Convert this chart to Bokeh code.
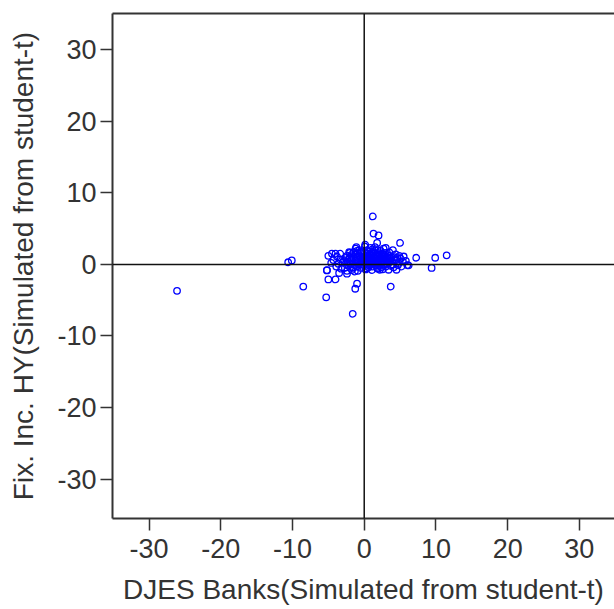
from bokeh.plotting import figure
from bokeh.models import Range1d, Span, LinearAxis, FixedTicker, ColumnDataSource
from bokeh.embed import file_html
from bokeh.resources import INLINE

# DJES Banks (x) and Fix. Inc. HY (y), simulated from student-t
djes_core = [0.2, 0.5, 0.8, 1.1, 1.4, 1.7, 2.0, 2.3, 2.6, 2.9,
             -0.2, -0.5, -0.8, -1.1, -1.4, -1.7, -2.0, -2.3, 0.1, 0.4,
             0.7, 1.0, 1.3, 1.6, 1.9, 2.2, 2.5, 2.8, 3.1, 3.4,
             0.3, 0.6, 0.9, 1.2, 1.5, 1.8, 2.1, 2.4, 2.7, 3.0,
             -0.1, -0.4, -0.7, -1.0, -1.3, -1.6, -1.9, -2.2, -2.5, -2.8,
             3.3, 3.6, 3.9, 4.2, 4.5, 4.8, 5.1, 5.4, 3.7, 4.1,
             0.0, 0.35, 0.65, 0.95, 1.25, 1.55, 1.85, 2.15, 2.45, 0.15,
             -0.35, -0.65, -0.95, -1.25, -1.55, -1.85, -2.6, -3.0, -3.3, -3.6,
             0.45, 0.85, 1.15, 1.5, 1.9, 2.3, 2.7, -0.3, -0.7, 0.1,
             0.55, 1.05, 1.35, 1.75, 2.05, 0.75, 1.2, 0.25, 1.6, 0.9,
             -0.1, 0.6, 1.0, 1.45, 2.5, 3.2, 2.9, 3.5, 4.4, 4.7,
             5.5, 5.8, 6.0, 4.0, -3.9, -3.2, -2.7, -4.3, -3.8, -4.6,
             0.05, 0.4, 0.75, 1.1, 1.45, 1.8, 2.15, 2.5, 2.85, 3.2,
             -0.25, -0.6, -0.9, -1.2, -1.5, -1.8, -2.1, -2.4, 3.55, 3.9,
             0.3, 0.7, 1.1, 1.5, 1.9, 2.3, 2.7, 3.1, 3.5, 4.3,
             -0.5, -1.0, -1.5, -2.0, 0.0, 0.5, 1.0, 1.7, 2.4, 4.6]
hy_core = [0.5, 0.8, 0.3, 0.9, 0.4, 1.1, 0.6, 0.2, 0.9, 0.5,
           0.3, 0.9, 0.4, 0.7, 0.2, 0.6, 1.0, 0.4, 1.2, 1.5,
           1.8, 1.4, 1.7, 1.3, 1.6, 1.2, 1.5, 1.1, 0.8, 0.3,
           -0.2, -0.4, 0.0, -0.3, -0.1, -0.5, -0.2, -0.4, 0.0, -0.3,
           -0.1, -0.5, 0.0, -0.3, -0.1, -0.4, 0.1, -0.2, 0.2, 0.6,
           1.3, 0.9, 0.5, 1.0, 0.6, 0.2, 0.8, 0.4, -0.2, -0.4,
           0.7, 0.15, 1.1, 0.65, 0.15, 0.75, 0.35, 0.95, 0.55, 0.95,
           0.6, 1.3, 1.05, 1.4, 1.0, 1.3, 0.9, 0.3, 0.7, 0.1,
           2.0, 2.3, 2.1, 2.4, 2.0, 1.9, 2.2, 1.8, 2.0, 2.5,
           0.45, 0.25, 1.0, 0.55, 1.35, 0.6, 0.6, 0.7, 0.2, 1.2,
           0.4, 0.05, 0.85, 0.5, 0.3, 0.1, 1.6, 1.7, 1.4, -0.1,
           1.1, 0.5, -0.1, 2.0, -0.3, -0.6, -0.5, 0.6, 1.1, 0.2,
           1.0, 0.6, 1.35, 0.45, 0.9, 0.25, 0.75, 1.25, 0.35, 1.05,
           1.05, 0.15, 1.6, 0.45, 1.7, 0.05, 0.75, 1.2, 0.6, 0.0,
           -0.55, -0.15, 0.35, 1.95, -0.6, 0.05, 1.35, 0.4, 1.2, 0.7,
           1.6, 1.9, -0.5, 1.6, 1.75, 1.05, 0.15, 0.8, 0.75, 0.9]
djes_outer = [-5.0, -4.0, -2.1, -1.2, 3.0, 3.8, 5.2, 4.9, -2.4, -1.7,
              0.2, 1.1, 2.6, 3.4, 2.2, 4.5, -0.9, -5.2, -3.5, -2.4,
              -1.3, 5.0, 1.8, -1.1, 0.14, 6.2, 7.25, 9.9, 9.4, 11.5,
              1.2, 1.3, 2.0, -10.6, -10.1, -8.5, -5.3, -1.6, -1.25, -1.0,
              3.7, -5.0, -4.0, -5.2, -4.5, -3.35, -26.1]
hy_outer = [1.2, 1.5, 1.7, 2.2, 2.3, 1.0, -0.3, 1.2, -0.9, -0.8,
            -0.7, -0.8, -0.7, -0.75, -0.75, -0.75, -0.9, -0.8, -1.2, -1.3,
            -1.0, 3.0, 3.0, 2.4, 2.75, -0.14, 0.93, 0.93, -0.5, 1.26,
            6.7, 4.3, 4.05, 0.3, 0.56, -3.1, -4.6, -6.9, -3.4, -2.7,
            -3.1, -2.1, -2.1, -0.84, 1.5, 1.5, -3.7]

x_ticks = [-30, -20, -10, 0, 10, 20, 30]
y_ticks = [-30, -20, -10, 0, 10, 20, 30]
x_title = "DJES Banks(Simulated from student-t)"
y_title = "Fix. Inc. HY(Simulated from student-t)"

src = ColumnDataSource(dict(x=djes_core + djes_outer, y=hy_core + hy_outer))

p = figure(width=614, height=609, output_backend="svg", toolbar_location=None,
           x_range=Range1d(-35.1, 34.9), y_range=Range1d(-35.5, 35.05),
           min_border_left=112, min_border_right=0, min_border_top=13, min_border_bottom=91,
           x_axis_label=x_title, y_axis_label=y_title)
p.outline_line_color = None
p.xgrid.visible = False
p.ygrid.visible = False
p.background_fill_color = "white"
p.border_fill_color = "white"

p.scatter("x", "y", source=src, marker="circle", size=6.5, fill_color=None,
          line_color="#0000ff", line_width=1.3)

p.add_layout(Span(location=0, dimension="height", line_color="#111111", line_width=1.5))
p.add_layout(Span(location=0, dimension="width", line_color="#111111", line_width=1.5))

for ax, ticks in ((p.xaxis[0], x_ticks), (p.yaxis[0], y_ticks)):
    ax.ticker = FixedTicker(ticks=ticks)
    ax.major_label_overrides = {t: str(t) for t in ticks}
    ax.major_tick_out = 12
    ax.major_tick_in = 0
    ax.minor_tick_out = 0
    ax.minor_tick_in = 0
    ax.axis_line_color = "#333333"
    ax.axis_line_width = 2
    ax.major_tick_line_color = "#333333"
    ax.major_tick_line_width = 1.5
    ax.major_label_text_font = "Liberation Sans"
    ax.major_label_text_font_size = "27px"
    ax.major_label_text_color = "#333333"
    ax.axis_label_text_font = "Liberation Sans"
    ax.axis_label_text_font_size = "28px"
    ax.axis_label_text_font_style = "normal"
    ax.axis_label_text_color = "#333333"
    ax.axis_label_text_line_height = 0.9
p.xaxis[0].major_label_standoff = 8
p.xaxis[0].axis_label_standoff = 13
p.yaxis[0].major_label_standoff = 4
p.yaxis[0].axis_label_standoff = 15

top = LinearAxis(ticker=FixedTicker(ticks=[]), major_tick_out=0, major_tick_in=0,
                 minor_tick_out=0, minor_tick_in=0, axis_line_color="#333333",
                 axis_line_width=2, major_label_standoff=0)
p.add_layout(top, "above")

open("out.html", "w").write(file_html(p, INLINE))
